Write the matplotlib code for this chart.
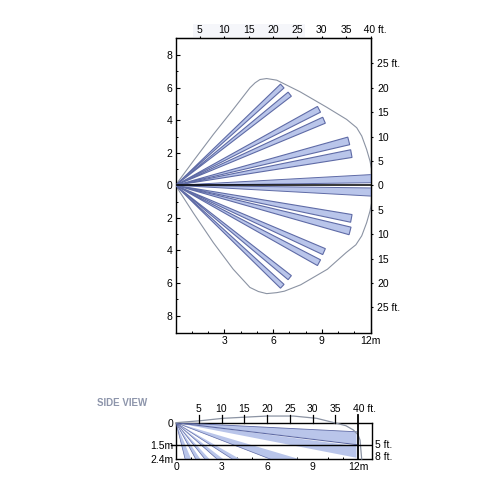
import matplotlib
matplotlib.use("Agg")
import matplotlib.pyplot as plt
import numpy as np
from matplotlib.patches import Polygon, Rectangle

plt.rcParams["font.family"] = ["Liberation Sans", "DejaVu Sans"]
plt.rcParams["font.size"] = 7.5

# top view, metres
tip_x = [6.57, 7.03, 8.83, 9.14, 10.66, 10.82, 6.57, 7.03, 8.83, 9.14, 10.74, 10.82]
tip_y = [6.1, 5.6, 4.67, 4.0, 2.73, 1.95, -6.2, -5.67, -4.75, -4.07, -2.8, -2.03]
tip_w = [0.16, 0.16, 0.2, 0.2, 0.24, 0.24, 0.16, 0.16, 0.2, 0.2, 0.24, 0.24]
flat_top = [0.16, -0.66]
flat_bot = [0.66, -0.16]
curve_x = [0.03, 1.1, 2.33, 3.5, 4.58, 4.9, 5.2, 5.61, 6.23, 7.66, 9.3, 10.53, 11.15, 11.46, 11.76, 11.97, 12.05]
curve_y = [0.05, 1.5, 3.13, 4.6, 5.99, 6.3, 6.5, 6.56, 6.46, 5.75, 4.8, 4.05, 3.54, 3.03, 2.21, 1.49, 1.08]
lower_x = [12.05, 11.97, 11.76, 11.46, 11.1, 10.5, 9.35, 7.7, 6.7, 6.23, 5.61, 5.1, 4.58, 3.55, 2.33, 1.1, 0.03]
lower_y = [-1.16, -1.57, -2.3, -3.1, -3.65, -4.13, -5.15, -6.11, -6.5, -6.59, -6.65, -6.52, -6.27, -5.15, -3.52, -1.7, -0.04]
feet_top = [5, 10, 15, 20, 25, 30, 35, 40]
feet_side = [0, 5, 10, 15, 20, 25]

# side view, metres
side_top = [0.6, 1.55]
side_bot = [1.41, 2.32]
floor_a = [0.6, 1.3, 1.9, 2.7, 3.7, 6.2]
floor_b = [1.0, 1.6, 2.2, 3.1, 4.2, 8.1]
side_curve_x = [0.0, 1.6, 3.1, 5.98, 7.74, 9.27, 10.59, 11.2, 11.69, 12.0, 12.13, 12.24]
side_curve_y = [0.0, -0.13, -0.29, -0.44, -0.44, -0.29, 0.04, 0.2, 0.48, 0.8, 1.15, 2.4]
side_feet = [5, 10, 15, 20, 25, 30, 35, 40]

FILL = "#b9c5ea"
EDGE = "#5f6ba6"
LINE = "#8b93a3"


def px_axes(fig, left, top, right, bottom):
    return fig.add_axes([left / 500, 1 - bottom / 500, (right - left) / 500, (bottom - top) / 500])


fig = plt.figure(figsize=(5, 5), dpi=100)
fig.patches.append(Rectangle((193 / 500, 1 - 37 / 500), 112 / 500, 13 / 500, transform=fig.transFigure,
                             facecolor="#f5f6fa", edgecolor="none", zorder=-1))

ax = px_axes(fig, 175.5, 38, 371, 332.7)
ax.set_xlim(0, 12.03)
ax.set_ylim(-9.05, 9.05)

ax.plot(curve_x, curve_y, color=LINE, lw=0.8, zorder=2)
ax.plot(lower_x, lower_y, color=LINE, lw=0.8, zorder=2)
for x, y, w in zip(tip_x, tip_y, tip_w):
    d = np.hypot(x, y)
    nx, ny = -y / d * w, x / d * w
    ax.add_patch(Polygon([(0, 0), (x + nx, y + ny), (x - nx, y - ny)], closed=True,
                         facecolor=FILL, edgecolor=EDGE, lw=0.8, zorder=3))
for lo, hi in zip(flat_top, flat_bot):
    ax.add_patch(Polygon([(0, 0), (12.03, lo), (12.03, hi)], closed=True,
                         facecolor=FILL, edgecolor=EDGE, lw=0.7, zorder=3))
ax.plot([0, 12.03], [0, 0], color="black", lw=1.1, zorder=4)

ax.set_xticks([3, 6, 9, 12])
ax.set_xticklabels(["3", "6", "9", "12m"])
ax.set_xticks([1, 2, 4, 5, 7, 8, 10, 11], minor=True)
ax.set_yticks([-8, -6, -4, -2, 0, 2, 4, 6, 8])
ax.set_yticklabels(["8", "6", "4", "2", "0", "2", "4", "6", "8"])
ax.set_yticks([-7, -5, -3, -1, 1, 3, 5, 7], minor=True)
ax.tick_params(which="major", direction="in", length=3, width=0.8, pad=2.5)
ax.tick_params(which="minor", direction="in", length=1.5, width=0.7)
for s in ax.spines.values():
    s.set_linewidth(1.0)

top = ax.secondary_xaxis("top")
top.set_xticks([f * 0.3 for f in feet_top])
top.set_xticklabels([str(f) for f in feet_top[:-1]] + ["   40 ft."])
top.tick_params(direction="out", length=1.5, width=0.8, pad=1)

# right axis runs 25 ... 0 ... 25 ft
right = ax.secondary_yaxis("right")
rt = sorted(set([f * 0.3 for f in feet_side] + [-f * 0.3 for f in feet_side]))
right.set_yticks(rt)
right.set_yticklabels(["25 ft." if abs(abs(v) - 7.5) < 0.01 else f"{abs(v) / 0.3:.0f}" for v in rt])
right.tick_params(direction="out", length=1.5, width=0.8, pad=3)

# side view
sx = px_axes(fig, 176, 422.7, 371.7, 459)
sx.set_xlim(0, 12.9)
sx.set_ylim(2.4, 0)
for t, b in zip(side_top, side_bot):
    sx.add_patch(Polygon([(0, 0), (11.9, t), (11.9, b)], closed=True, facecolor=FILL, edgecolor="none", zorder=2))
sx.plot([0, 11.9], [0, 1.45], color=EDGE, lw=0.8, zorder=3)
sx.plot([0, 11.9], [0, 0.6], color=EDGE, lw=0.6, zorder=3)
for a, b in zip(floor_a, floor_b):
    sx.add_patch(Polygon([(0, 0), (a, 2.4), (b, 2.4)], closed=True, facecolor=FILL, edgecolor="none", zorder=2))
    sx.plot([0, a], [0, 2.4], color=EDGE, lw=0.5, zorder=3)
sx.plot(side_curve_x, side_curve_y, color=LINE, lw=0.9, clip_on=False, zorder=3)
sx.plot([0, 12.9], [1.5, 1.5], color="black", lw=1.0, zorder=4)
sx.plot([-0.3, 0], [1.5, 1.5], color="black", lw=1.0, clip_on=False, zorder=4)
sx.plot([12.0, 12.0], [-0.5, 2.4], color="black", lw=1.3, clip_on=False, zorder=5)
for f in side_feet[:-1]:
    sx.plot([f * 0.3, f * 0.3], [-0.5, 0], color="black", lw=0.9, clip_on=False, zorder=5)
    sx.text(f * 0.3, -0.55, str(f), ha="center", va="bottom")
sx.text(11.65, -0.55, "40 ft.", ha="left", va="bottom")

sx.set_xticks([0, 3, 6, 9, 12])
sx.set_xticklabels(["0", "3", "6", "9", "12m"])
sx.set_xticks([1, 2, 4, 5, 7, 8, 10, 11], minor=True)
sx.set_yticks([0, 1.5, 2.4])
sx.set_yticklabels(["0", "1.5m", "2.4m"])
sx.tick_params(which="major", direction="in", length=0, pad=2)
sx.tick_params(axis="x", which="major", pad=2)
sx.tick_params(which="minor", direction="in", length=1.5, width=0.7)
for s in sx.spines.values():
    s.set_linewidth(1.0)
sx.text(13.1, 1.5, "5 ft.", va="center", ha="left")
sx.text(13.1, 2.3, "8 ft.", va="center", ha="left")

fig.text(97 / 500, 1 - 403.5 / 500, "SIDE VIEW", fontsize=7, fontweight="bold", color="#8d95ab", va="center")

fig.savefig("out.png", dpi=100)
